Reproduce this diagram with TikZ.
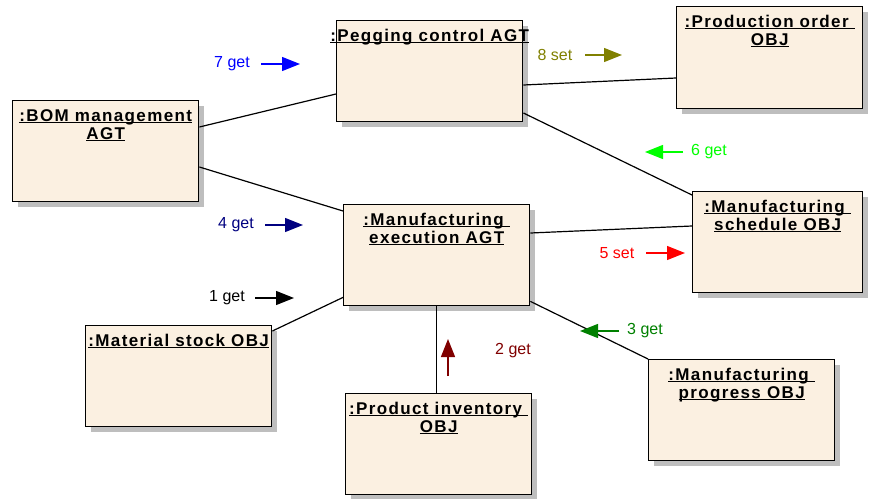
\documentclass[tikz,border=0pt]{standalone}
\usepackage{fontspec}
\setmainfont{Liberation Sans}
\usepackage{xcolor}
\usepackage{tikz}
\usetikzlibrary{calc}
\usetikzlibrary{shadows}
\usetikzlibrary{arrows.meta}

\newfontfamily\titlefont[LetterSpace=8]{Liberation Sans}

\definecolor{boxfill}{RGB}{251,240,225}
\definecolor{boxshadow}{RGB}{190,190,190}
\definecolor{msgolive}{RGB}{128,128,0}
\definecolor{msglime}{RGB}{0,255,0}
\definecolor{msgnavy}{RGB}{0,0,128}
\definecolor{msggreen}{RGB}{0,128,0}
\definecolor{msgmaroon}{RGB}{128,0,0}

\newcommand{\uln}[1]{\setbox0\hbox{#1}\rlap{\rule[-1.8pt]{\wd0}{1.1pt}}\box0}

\tikzset{
	objbox/.style={draw, line width=1.4pt, fill=boxfill, anchor=north west, minimum width=186pt, minimum height=101pt, inner sep=0pt,
		drop shadow={shadow xshift=5pt, shadow yshift=-5pt, fill=boxshadow, opacity=1}},
	objtitle/.style={anchor=north, inner sep=0pt, align=center, font=\titlefont\bfseries\fontsize{17}{18}\selectfont},
	msglabel/.style={inner sep=0pt, font=\fontsize{16}{18}\selectfont},
	msgarrow/.style={line width=1.4pt, -{Triangle[length=18pt,width=14pt]}},
	link/.style={line width=1.2pt}
}

\begin{document}
\begin{tikzpicture}[x=1pt, y=-1pt]
		\useasboundingbox (0,0) rectangle (872,498);
		
		\node[objbox] (bom) at (12,100) {};
		\node[objbox] (peg) at (336,20) {};
		\node[objbox, minimum height=102pt] (prod) at (676,6) {};
		\node[objbox] (exec) at (343,204) {};
		\node[objbox, minimum width=170pt] (sched) at (692,191) {};
		\node[objbox] (mat) at (85,325) {};
		\node[objbox] (inv) at (345,393) {};
		\node[objbox] (prog) at (648,359) {};
		
		\node[objtitle] (bomt) at ([yshift=-9pt]bom.north) {\uln{:BOM management}\\\uln{AGT}};
		\node[objtitle] (pegt) at ([yshift=-9pt]peg.north) {\uln{:Pegging control AGT}};
		\node[objtitle] (prodt) at ([yshift=-9pt]prod.north) {\uln{:Production order\ }\\\uln{OBJ}};
		\node[objtitle] (exect) at ([yshift=-9pt]exec.north) {\uln{:Manufacturing\ }\\\uln{execution AGT}};
		\node[objtitle] (schedt) at ([yshift=-9pt]sched.north) {\uln{:Manufacturing\ }\\\uln{schedule OBJ}};
		\node[objtitle] (matt) at ([yshift=-9pt]mat.north) {\uln{:Material stock OBJ}};
		\node[objtitle] (invt) at ([yshift=-9pt]inv.north) {\uln{:Product inventory\ }\\\uln{OBJ}};
		\node[objtitle] (progt) at ([yshift=-9pt]prog.north) {\uln{:Manufacturing\ }\\\uln{progress OBJ}};
		
		\draw[link] ([yshift=-27pt]bom.north east) -- ([yshift=-74pt]peg.north west);
		\draw[link] ([yshift=-67pt]bom.north east) -- ([yshift=-7pt]exec.north west);
		\draw[link] ([yshift=-65pt]peg.north east) -- ([yshift=-72pt]prod.north west);
		\draw[link] ([yshift=-93pt]peg.north east) -- ([yshift=-4pt]sched.north west);
		\draw[link] ([yshift=-29pt]exec.north east) -- ([yshift=-35pt]sched.north west);
		\draw[link] ([yshift=9pt]exec.south west) -- ([yshift=-6pt]mat.north east);
		\draw[link] (exec.south) -- (exec.south |- inv.north);
		\draw[link] ([yshift=5pt]exec.south east) -- (prog.north west);
		
		\node[msglabel, text=blue] (m7) at (232,64) {7 get};
		\draw[msgarrow, blue] (261,64) -- (300,64);
		
		\node[msglabel, text=msgolive] (m8) at (555,55) {8 set};
		\draw[msgarrow, msgolive] (585,55) -- (622,55);
		
		\node[msglabel, text=msglime] (m6) at (709,152) {6 get};
		\draw[msgarrow, msglime] (683,152) -- (645,152);
		
		\node[msglabel, text=msgnavy] (m4) at (236,225) {4 get};
		\draw[msgarrow, msgnavy] (265,225) -- (303,225);
		
		\node[msglabel, text=red] (m5) at (617,253) {5 set};
		\draw[msgarrow, red] (646,253) -- (685,253);
		
		\node[msglabel, text=black] (m1) at (227,298) {1 get};
		\draw[msgarrow, black] (255,298) -- (294,298);
		
		\node[msglabel, text=msggreen] (m3) at (645,331) {3 get};
		\draw[msgarrow, msggreen] (619,331) -- (580,331);
		
		\node[msglabel, text=msgmaroon] (m2) at (513,351) {2 get};
		\draw[msgarrow, msgmaroon] (448,376) -- (448,339);
	\end{tikzpicture}
\end{document}
